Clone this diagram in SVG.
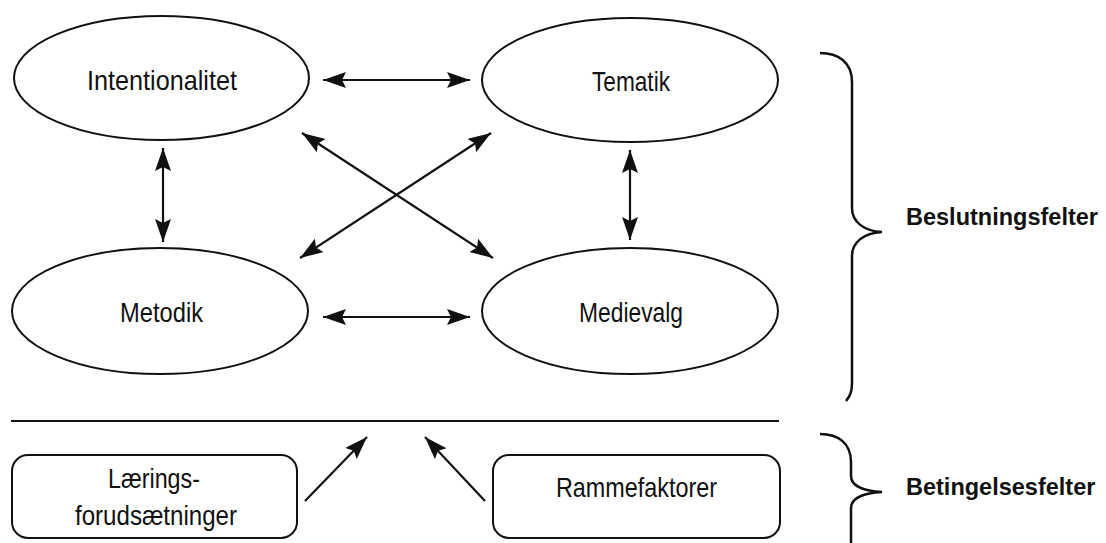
<svg xmlns="http://www.w3.org/2000/svg" width="1106" height="543" viewBox="0 0 1106 543">
<style>
.node{fill:#fff;stroke:#111;stroke-width:2}
.lbl{font-family:"Liberation Sans",Arial,sans-serif;font-size:28px;fill:#111}
.big{font-family:"Liberation Sans",Arial,sans-serif;font-size:23.5px;font-weight:bold;fill:#111}
.con{fill:none;stroke:#111;stroke-width:2.2}
.brace{fill:none;stroke:#111;stroke-width:2.5}
</style>
<defs>
<marker id="ah" markerUnits="userSpaceOnUse" markerWidth="26" markerHeight="18" refX="23" refY="8" orient="auto-start-reverse" viewBox="0 0 26 18">
<path d="M0,0 L23,8 L0,16 L4,8 Z" fill="#111"/>
</marker>
</defs>
<rect width="1106" height="543" fill="#fff"/>
<g id="connectors">
<line class="con" x1="323" y1="80" x2="470" y2="80" marker-start="url(#ah)" marker-end="url(#ah)"/>
<line class="con" x1="323" y1="317" x2="470" y2="317" marker-start="url(#ah)" marker-end="url(#ah)"/>
<line class="con" x1="163" y1="148" x2="163" y2="242" marker-start="url(#ah)" marker-end="url(#ah)"/>
<line class="con" x1="630" y1="150" x2="630" y2="240" marker-start="url(#ah)" marker-end="url(#ah)"/>
<line class="con" x1="302" y1="133" x2="493" y2="258" marker-start="url(#ah)" marker-end="url(#ah)"/>
<line class="con" x1="491" y1="133" x2="300" y2="258" marker-start="url(#ah)" marker-end="url(#ah)"/>
<line class="con" x1="305" y1="501" x2="367" y2="437" marker-end="url(#ah)"/>
<line class="con" x1="485" y1="501" x2="425" y2="437" marker-end="url(#ah)"/>
</g>
<g id="divider">
<line x1="11" y1="421" x2="779" y2="421" stroke="#111" stroke-width="2"/>
</g>
<g id="intentionalitet">
<ellipse class="node" cx="161.5" cy="78" rx="147.5" ry="62"/>
<text class="lbl" x="87" y="90" textLength="150" lengthAdjust="spacingAndGlyphs">Intentionalitet</text>
</g>
<g id="tematik">
<ellipse class="node" cx="630" cy="80" rx="148" ry="62"/>
<text class="lbl" x="592" y="91" textLength="78" lengthAdjust="spacingAndGlyphs">Tematik</text>
</g>
<g id="metodik">
<ellipse class="node" cx="160" cy="311" rx="148" ry="63"/>
<text class="lbl" x="120" y="322" textLength="83" lengthAdjust="spacingAndGlyphs">Metodik</text>
</g>
<g id="medievalg">
<ellipse class="node" cx="630" cy="311" rx="148" ry="63"/>
<text class="lbl" x="579" y="322" textLength="104" lengthAdjust="spacingAndGlyphs">Medievalg</text>
</g>
<g id="laeringsforudsaetninger">
<rect class="node" x="12" y="455" width="285" height="83" rx="16" ry="16"/>
<text class="lbl" x="108" y="488" textLength="92" lengthAdjust="spacingAndGlyphs">Lærings-</text>
<text class="lbl" x="75" y="525" textLength="162" lengthAdjust="spacingAndGlyphs">forudsætninger</text>
</g>
<g id="rammefaktorer">
<rect class="node" x="493" y="455" width="287" height="83" rx="16" ry="16"/>
<text class="lbl" x="556" y="497" textLength="161" lengthAdjust="spacingAndGlyphs">Rammefaktorer</text>
</g>
<g id="beslutningsfelter">
<path class="brace" d="M820,53 C838,53 852,62 852,82 L852,208 C852,222 864,231 882,232 C864,233 852,242 852,256 L852,383 C852,392 850,396 846,401"/>
<text class="big" x="906" y="225">Beslutningsfelter</text>
</g>
<g id="betingelsesfelter">
<path class="brace" d="M820,434 C838,434 851,443 851,462 L851,476 C851,486 864,491 882,492 C864,493 851,498 851,508 L851,545"/>
<text class="big" x="906" y="495">Betingelsesfelter</text>
</g>
</svg>
